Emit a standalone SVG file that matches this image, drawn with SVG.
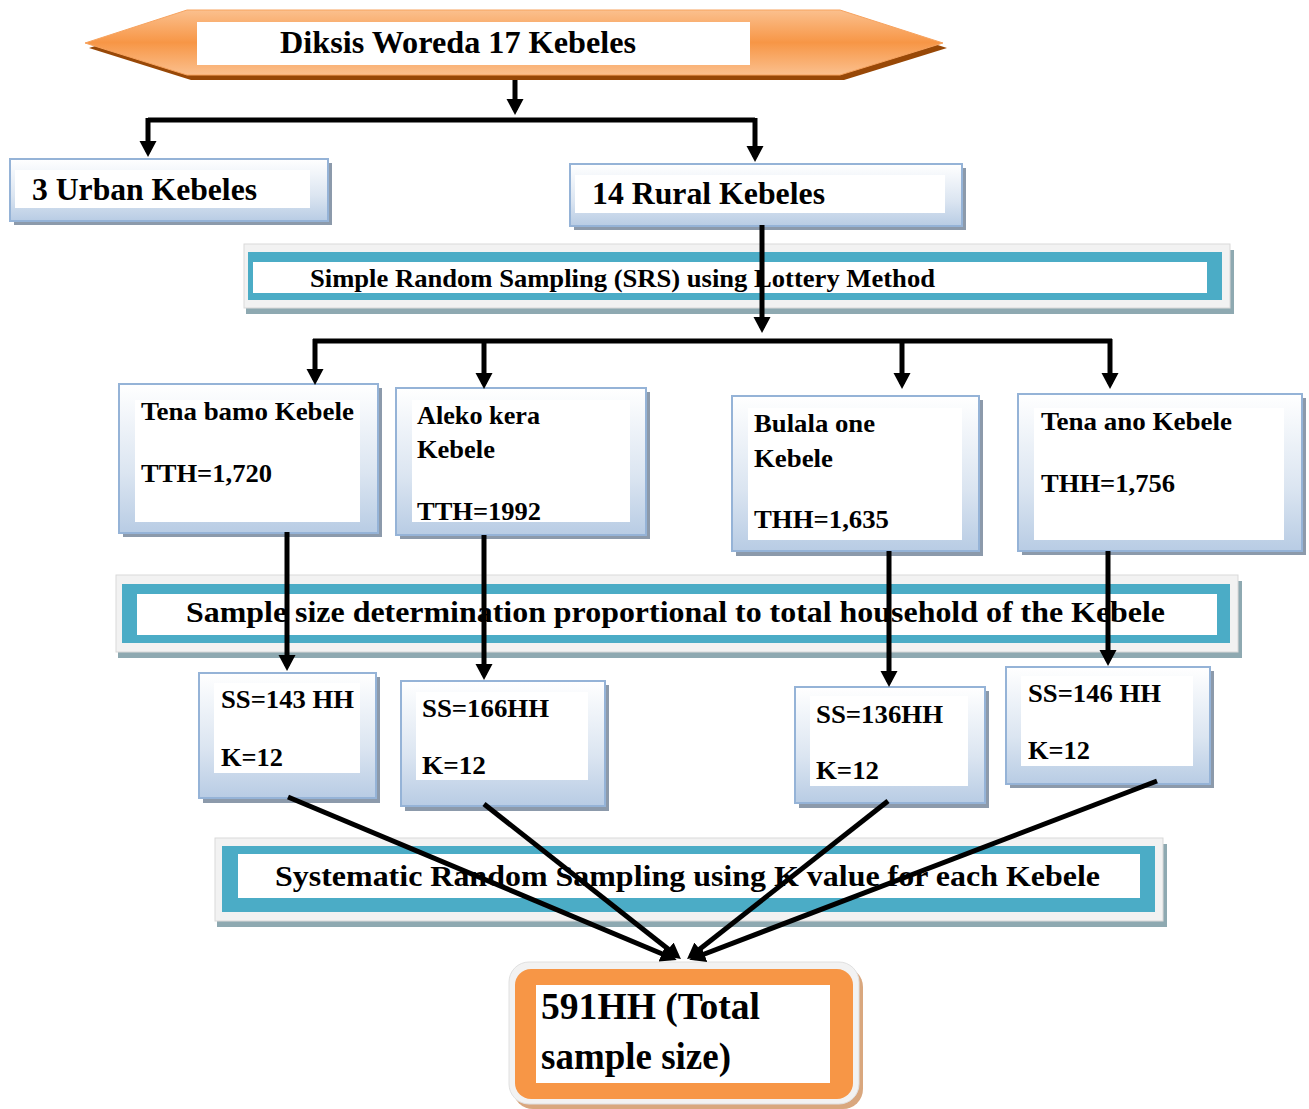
<svg xmlns="http://www.w3.org/2000/svg" width="1309" height="1109" viewBox="0 0 1309 1109">
<style>
text{font-family:"Liberation Serif","Times New Roman",serif;font-weight:bold;fill:#000}
.t22{font-size:25px}
.t28{font-size:32px}
.t26{font-size:30px}
.bx{fill:url(#blueg);stroke:#95b3d7;stroke-width:2}
.sh{fill:#8c9aab}
.wh{fill:#fff}
.teal{fill:#4bacc6}
.gray{fill:#f2f2f2;stroke:#d9d9d9;stroke-width:1}
.gsh{fill:#8ea9b1}
.ln{stroke:#000;stroke-width:5;fill:none}
.ar{stroke:#000;stroke-width:5;fill:none;marker-end:url(#ah)}
</style>
<defs>
<linearGradient id="blueg" x1="0" y1="0" x2="0" y2="1">
<stop offset="0" stop-color="#ffffff"/>
<stop offset="0.6" stop-color="#dbe5f1"/>
<stop offset="1" stop-color="#b8cce4"/>
</linearGradient>
<linearGradient id="orgg" x1="0" y1="0" x2="0" y2="1">
<stop offset="0" stop-color="#fbc08e"/>
<stop offset="0.5" stop-color="#f79646"/>
<stop offset="1" stop-color="#fbc08e"/>
</linearGradient>
<marker id="ah" markerWidth="4" markerHeight="4" refX="2.2" refY="2" orient="auto" markerUnits="strokeWidth">
<path d="M0,0.3 L3.2,2 L0,3.7 z" fill="#000"/>
</marker>
</defs>

<g id="n-top">
<polygon points="89,48 191,15 844,15 947,48 844,80 191,80" fill="#984807"/>
<polygon points="85,43 187,10 840,10 943,43 840,75 187,75" fill="url(#orgg)" stroke="#f7a35f" stroke-width="1"/>
<rect x="197" y="22" width="553" height="43" class="wh"/>
<text x="280" y="53" class="t28" textLength="356" lengthAdjust="spacingAndGlyphs">Diksis Woreda 17 Kebeles</text>
</g>

<g id="n-urban">
<rect x="14" y="163" width="318" height="62" class="sh"/>
<rect x="10" y="159" width="318" height="62" class="bx"/>
<rect x="15" y="170" width="295" height="38" class="wh"/>
<text x="32" y="200" class="t28" textLength="225" lengthAdjust="spacingAndGlyphs">3 Urban Kebeles</text>
</g>

<g id="n-rural">
<rect x="574" y="168" width="392" height="62" class="sh"/>
<rect x="570" y="164" width="392" height="62" class="bx"/>
<rect x="575" y="175" width="370" height="38" class="wh"/>
<text x="592" y="204" class="t28" textLength="233" lengthAdjust="spacingAndGlyphs">14 Rural Kebeles</text>
</g>

<g id="n-srs">
<rect x="246" y="250" width="988" height="64" class="gsh"/>
<rect x="244" y="244" width="986" height="64" class="gray"/>
<rect x="248" y="252" width="974" height="48" class="teal"/>
<rect x="253" y="262" width="954" height="31" class="wh"/>
<text x="310" y="287" class="t22" textLength="625" lengthAdjust="spacingAndGlyphs">Simple Random Sampling (SRS) using Lottery Method</text>
</g>

<g id="n-tenabamo">
<rect x="123" y="388" width="259" height="149" class="sh"/>
<rect x="119" y="384" width="259" height="149" class="bx"/>
<rect x="135" y="400" width="225" height="122" class="wh"/>
<text x="141" y="420" class="t22" textLength="213" lengthAdjust="spacingAndGlyphs">Tena bamo Kebele</text>
<text x="141" y="482" class="t22" textLength="131" lengthAdjust="spacingAndGlyphs">TTH=1,720</text>
</g>

<g id="n-aleko">
<rect x="400" y="392" width="250" height="147" class="sh"/>
<rect x="396" y="388" width="250" height="147" class="bx"/>
<rect x="412" y="400" width="218" height="122" class="wh"/>
<text x="417" y="424" class="t22" textLength="123" lengthAdjust="spacingAndGlyphs">Aleko kera</text>
<text x="417" y="458" class="t22" textLength="78" lengthAdjust="spacingAndGlyphs">Kebele</text>
<text x="417" y="520" class="t22" textLength="124" lengthAdjust="spacingAndGlyphs">TTH=1992</text>
</g>

<g id="n-bulala">
<rect x="736" y="400" width="247" height="156" class="sh"/>
<rect x="732" y="396" width="247" height="155" class="bx"/>
<rect x="748" y="408" width="214" height="132" class="wh"/>
<text x="754" y="432" class="t22" textLength="121" lengthAdjust="spacingAndGlyphs">Bulala one</text>
<text x="754" y="467" class="t22" textLength="79" lengthAdjust="spacingAndGlyphs">Kebele</text>
<text x="754" y="528" class="t22" textLength="135" lengthAdjust="spacingAndGlyphs">THH=1,635</text>
</g>

<g id="n-tenaano">
<rect x="1022" y="398" width="284" height="157" class="sh"/>
<rect x="1018" y="394" width="284" height="157" class="bx"/>
<rect x="1034" y="408" width="250" height="132" class="wh"/>
<text x="1041" y="430" class="t22" textLength="191" lengthAdjust="spacingAndGlyphs">Tena ano Kebele</text>
<text x="1041" y="492" class="t22" textLength="134" lengthAdjust="spacingAndGlyphs">THH=1,756</text>
</g>

<g id="n-ssdet">
<rect x="118" y="581" width="1124" height="77" class="gsh"/>
<rect x="116" y="575" width="1122" height="77" class="gray"/>
<rect x="122" y="584" width="1108" height="59" class="teal"/>
<rect x="137" y="594" width="1080" height="41" class="wh"/>
<text x="186" y="622" class="t26" textLength="979" lengthAdjust="spacingAndGlyphs">Sample size determination proportional to total household of the Kebele</text>
</g>

<g id="n-ss143">
<rect x="203" y="677" width="177" height="126" class="sh"/>
<rect x="199" y="673" width="177" height="125" class="bx"/>
<rect x="214" y="683" width="146" height="90" class="wh"/>
<text x="221" y="708" class="t22" textLength="133" lengthAdjust="spacingAndGlyphs">SS=143 HH</text>
<text x="221" y="766" class="t22" textLength="62" lengthAdjust="spacingAndGlyphs">K=12</text>
</g>

<g id="n-ss166">
<rect x="405" y="685" width="204" height="126" class="sh"/>
<rect x="401" y="681" width="204" height="125" class="bx"/>
<rect x="416" y="692" width="172" height="88" class="wh"/>
<text x="422" y="717" class="t22" textLength="127" lengthAdjust="spacingAndGlyphs">SS=166HH</text>
<text x="422" y="774" class="t22" textLength="64" lengthAdjust="spacingAndGlyphs">K=12</text>
</g>

<g id="n-ss136">
<rect x="799" y="691" width="190" height="117" class="sh"/>
<rect x="795" y="687" width="190" height="116" class="bx"/>
<rect x="810" y="696" width="158" height="90" class="wh"/>
<text x="816" y="723" class="t22" textLength="127" lengthAdjust="spacingAndGlyphs">SS=136HH</text>
<text x="816" y="779" class="t22" textLength="63" lengthAdjust="spacingAndGlyphs">K=12</text>
</g>

<g id="n-ss146">
<rect x="1010" y="671" width="204" height="117" class="sh"/>
<rect x="1006" y="667" width="204" height="117" class="bx"/>
<rect x="1021" y="676" width="172" height="90" class="wh"/>
<text x="1028" y="702" class="t22" textLength="133" lengthAdjust="spacingAndGlyphs">SS=146 HH</text>
<text x="1028" y="759" class="t22" textLength="62" lengthAdjust="spacingAndGlyphs">K=12</text>
</g>

<g id="n-sys">
<rect x="217" y="844" width="950" height="83" class="gsh"/>
<rect x="215" y="838" width="948" height="83" class="gray"/>
<rect x="222" y="846" width="933" height="66" class="teal"/>
<rect x="238" y="854" width="902" height="44" class="wh"/>
<text x="275" y="886" class="t26" textLength="825" lengthAdjust="spacingAndGlyphs">Systematic Random Sampling using K value for each Kebele</text>
</g>

<g id="n-total">
<rect x="513" y="967" width="350" height="142" rx="20" fill="#d9a77e"/>
<rect x="509" y="962" width="350" height="142" rx="20" fill="#f2f2f2" stroke="#e0e0e0"/>
<rect x="515" y="969" width="338" height="130" rx="16" fill="#f79646"/>
<rect x="536" y="985" width="294" height="98" class="wh"/>
<text x="541" y="1019" style="font-size:37px" textLength="219" lengthAdjust="spacingAndGlyphs">591HH (Total</text>
<text x="541" y="1069" style="font-size:37px" textLength="190" lengthAdjust="spacingAndGlyphs">sample size)</text>
</g>

<g id="connectors">
<path class="ar" d="M515,80 V110"/>
<path class="ln" d="M148,120 H755"/>
<path class="ar" d="M148,118 V152"/>
<path class="ar" d="M755,118 V157"/>
<path class="ar" d="M762,225 V328"/>
<path class="ln" d="M313,341 H1112"/>
<path class="ar" d="M315,339 V380"/>
<path class="ar" d="M484,339 V384"/>
<path class="ar" d="M902,339 V384"/>
<path class="ar" d="M1110,339 V384"/>
<path class="ar" d="M287,532 V666"/>
<path class="ar" d="M484,535 V675"/>
<path class="ar" d="M889,551 V682"/>
<path class="ar" d="M1108,551 V661"/>
<path class="ar" d="M288,797 L672,958"/>
<path class="ar" d="M484,804 L677,956"/>
<path class="ar" d="M888,801 L691,956"/>
<path class="ar" d="M1157,781 L694,958"/>
</g>
</svg>
